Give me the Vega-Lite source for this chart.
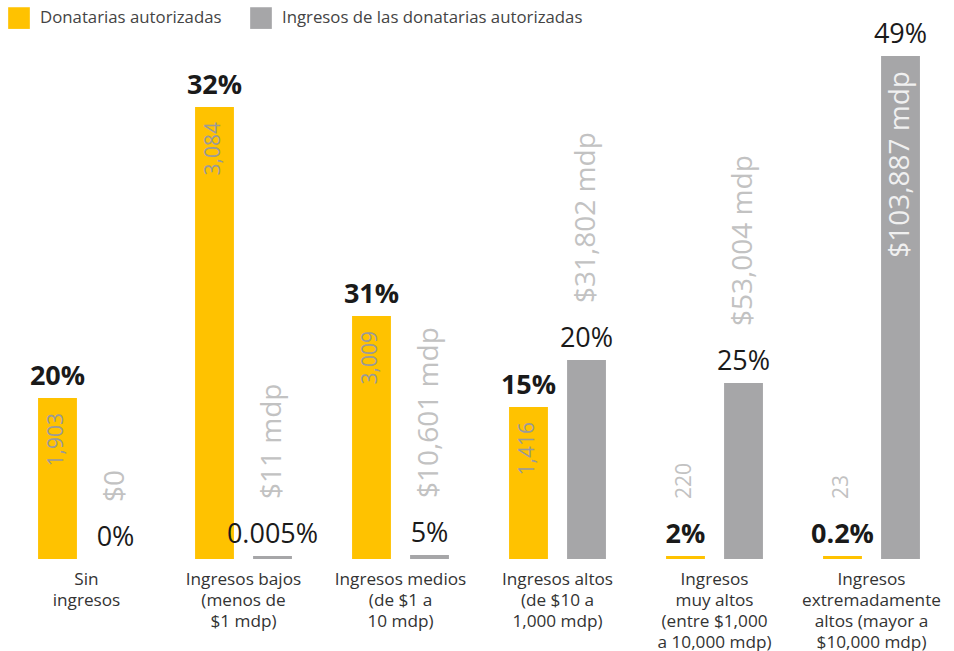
{
  "$schema": "https://vega.github.io/schema/vega-lite/v6.json",
  "width": 942,
  "height": 550,
  "autosize": "none",
  "padding": {"left": 8, "top": 9, "right": 4, "bottom": 92},
  "background": "white",
  "config": {"view": {"stroke": null}, "font": "Open Sans"},
  "data": {"values": [
    {"categoria": "Sin|ingresos", "serie": "Donatarias autorizadas", "altura": 161, "pct": "20%", "etiqueta": "1,903"},
    {"categoria": "Sin|ingresos", "serie": "Ingresos de las donatarias autorizadas", "altura": 0, "pct": "0%", "etiqueta": "$0"},
    {"categoria": "Ingresos bajos|(menos de|$1 mdp)", "serie": "Donatarias autorizadas", "altura": 452, "pct": "32%", "etiqueta": "3,084"},
    {"categoria": "Ingresos bajos|(menos de|$1 mdp)", "serie": "Ingresos de las donatarias autorizadas", "altura": 3, "pct": "0.005%", "etiqueta": "$11 mdp"},
    {"categoria": "Ingresos medios|(de $1 a|10 mdp)", "serie": "Donatarias autorizadas", "altura": 243, "pct": "31%", "etiqueta": "3,009"},
    {"categoria": "Ingresos medios|(de $1 a|10 mdp)", "serie": "Ingresos de las donatarias autorizadas", "altura": 4, "pct": "5%", "etiqueta": "$10,601 mdp"},
    {"categoria": "Ingresos altos|(de $10 a|1,000 mdp)", "serie": "Donatarias autorizadas", "altura": 152, "pct": "15%", "etiqueta": "1,416"},
    {"categoria": "Ingresos altos|(de $10 a|1,000 mdp)", "serie": "Ingresos de las donatarias autorizadas", "altura": 199, "pct": "20%", "etiqueta": "$31,802 mdp"},
    {"categoria": "Ingresos|muy altos|(entre $1,000|a 10,000 mdp)", "serie": "Donatarias autorizadas", "altura": 3, "pct": "2%", "etiqueta": "220"},
    {"categoria": "Ingresos|muy altos|(entre $1,000|a 10,000 mdp)", "serie": "Ingresos de las donatarias autorizadas", "altura": 176, "pct": "25%", "etiqueta": "$53,004 mdp"},
    {"categoria": "Ingresos|extremadamente|altos (mayor a|$10,000 mdp)", "serie": "Donatarias autorizadas", "altura": 3, "pct": "0.2%", "etiqueta": "23"},
    {"categoria": "Ingresos|extremadamente|altos (mayor a|$10,000 mdp)", "serie": "Ingresos de las donatarias autorizadas", "altura": 503, "pct": "49%", "etiqueta": "$103,887 mdp"}
  ]},
  "encoding": {
    "x": {
      "field": "categoria", "type": "nominal", "sort": null, "title": null,
      "scale": {"type": "band", "paddingInner": 0.25, "paddingOuter": 0.125},
      "axis": {
        "domain": false, "ticks": false, "labelAngle": 0,
        "labelExpr": "split(datum.label, '|')",
        "labelFont": "Open Sans", "labelFontSize": 17.2, "labelColor": "#333333",
        "labelLineHeight": 21, "labelPadding": 11, "labelBaseline": "top", "labelLimit": 0
      }
    },
    "xOffset": {
      "field": "serie", "type": "nominal", "sort": ["Donatarias autorizadas", "Ingresos de las donatarias autorizadas"],
      "scale": {"paddingInner": 0.33, "paddingOuter": 0.18}
    },
    "y": {
      "field": "altura", "type": "quantitative", "axis": null,
      "scale": {"domain": [0, 550], "nice": false, "zero": true}
    }
  },
  "layer": [
    {
      "mark": {"type": "bar"},
      "encoding": {
        "color": {
          "field": "serie", "type": "nominal", "title": null,
          "scale": {"domain": ["Donatarias autorizadas", "Ingresos de las donatarias autorizadas"], "range": ["#FFC200", "#A6A6A8"]},
          "legend": {
            "orient": "none", "legendX": 0, "legendY": -2, "direction": "horizontal",
            "symbolType": "square", "symbolSize": 470, "symbolStrokeWidth": 0, "symbolOpacity": 1,
            "labelFont": "Open Sans", "labelFontSize": 16.8, "labelColor": "#444444",
            "labelOffset": 10, "columnPadding": 28, "padding": 0, "labelLimit": 0
          }
        }
      }
    },
    {
      "transform": [{"filter": "datum.serie == 'Donatarias autorizadas'"}],
      "mark": {"type": "text", "font": "Open Sans", "fontSize": 27, "fontWeight": "bold", "color": "#1a1a1a", "baseline": "alphabetic", "dy": -13},
      "encoding": {"text": {"field": "pct"}}
    },
    {
      "transform": [{"filter": "datum.serie != 'Donatarias autorizadas'"}],
      "mark": {"type": "text", "font": "Open Sans", "fontSize": 27, "fontWeight": "normal", "color": "#1a1a1a", "baseline": "alphabetic", "dy": -13},
      "encoding": {"text": {"field": "pct"}}
    },
    {
      "transform": [{"filter": "(datum.serie == 'Donatarias autorizadas' && datum.altura > 100) || datum.altura > 400"}],
      "mark": {"type": "text", "font": "Open Sans", "angle": 270, "align": "right", "baseline": "middle", "dx": -15},
      "encoding": {
        "text": {"field": "etiqueta"},
        "color": {"condition": {"test": "datum.serie == 'Donatarias autorizadas'", "value": "#9a9a9a"}, "value": "#f0f0f0"},
        "size": {"condition": {"test": "datum.serie == 'Donatarias autorizadas'", "value": 21}, "value": 28}
      }
    },
    {
      "transform": [{"filter": "!((datum.serie == 'Donatarias autorizadas' && datum.altura > 100) || datum.altura > 400)"}],
      "mark": {"type": "text", "font": "Open Sans", "angle": 270, "align": "left", "baseline": "middle", "dx": 57},
      "encoding": {
        "text": {"field": "etiqueta"},
        "color": {"value": "#c2c2c2"},
        "size": {"condition": {"test": "datum.serie == 'Donatarias autorizadas'", "value": 21}, "value": 28}
      }
    }
  ]
}
